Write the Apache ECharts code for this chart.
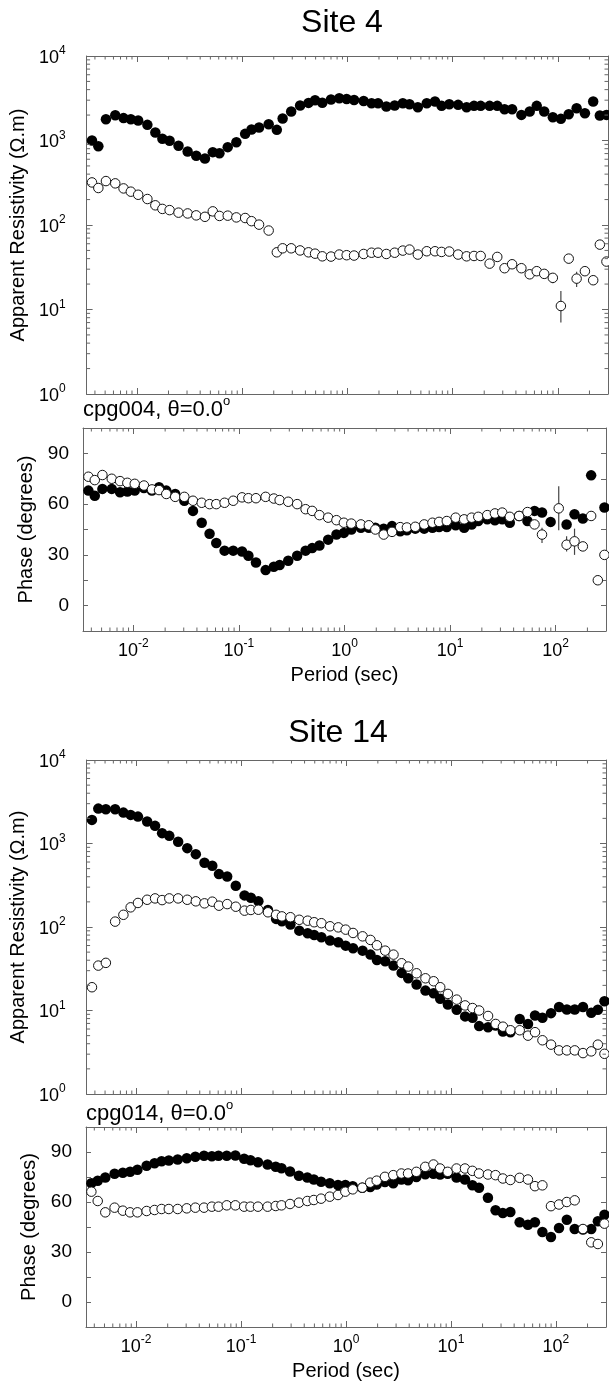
<!DOCTYPE html>
<html><head><meta charset="utf-8">
<script src="https://cdn.jsdelivr.net/npm/echarts@6/dist/echarts.min.js"></script>
<style>html,body{margin:0;padding:0;background:#fff}#c{width:609px;height:1382px}</style>
</head><body><div id="c"></div>
<script>
// ---------- data ----------
const periods = [0.00375,0.00431,0.00509,0.00624,0.00748,0.00877,0.0103,0.0126,0.0150,0.0175,
  0.0205,0.0249,0.0304,0.0367,0.0444,0.0527,0.0610,0.0731,0.0883,0.107,
  0.123,0.145,0.179,0.214,0.243,0.293,0.356,0.428,0.494,0.579,
  0.700,0.839,0.986,1.16,1.43,1.70,1.96,2.35,2.82,3.37,
  3.90,4.68,5.69,6.81,7.87,9.31,11.3,13.6,16.0,18.5,
  22.5,26.6,31.2,36.8,45.1,54.1,63.1,74.3,89.7,107,
  127,151,181,217,251,290];

const site4RhoFilled = [1000,857,1787,1990,1840,1787,1722,1531,1243,1047,
  991,865,741,660,613,728,708,834,955,1199,
  1349,1425,1559,1336,1820,2203,2590,2786,2995,2800,
  3050,3160,3100,3020,2940,2760,2760,2520,2590,2760,
  2690,2480,2760,2890,2570,2690,2640,2480,2570,2570,
  2570,2570,2343,2343,2010,2203,2570,2203,1888,1804,
  2047,2410,2100,2890,1973,2010];
const site4RhoOpen = [319,274,331,311,271,248,228,203,171,155,
  150,140,137,130,125,145,128,129,123,121,
  111,101,86,47.5,53,53,50,47.5,45.8,42.6,
  42.3,44.7,43.9,43.5,45.4,47,47,45.4,47,49.8,
  51.2,44.7,48.9,48.9,48,48.5,44.7,42.6,43,43,
  34.9,41.9,30.8,34.3,30.8,26.1,28.4,26.4,23.7,11.0,
  40,23.2,28.4,22.2,58.6,36.9];
const site4PhaseFilled = [68,65,69,69,67,67.5,68,69.5,68,70,
  68,66,62,56,49,42.5,37,32.5,32.5,32,
  29.5,25.5,21,23,24,26.5,29.5,32.5,34,35.5,
  39,42,43,45,46,46,46,45.5,47,44,
  44.5,45.5,45.5,46,46.5,46.5,47.5,46,48,50,
  51,50.5,51,49,53,50,56,55,49.5,null,
  48,54,51.5,77,null,58];
const site4PhaseOpen = [76.2,74.2,77.2,75,73.6,72.6,72,71,68.7,68.3,
  66,64.3,64.3,62,60.8,60,60,60.8,62,64,
  63.5,63.5,64.3,63.3,62.4,61.4,60,57,56,53.5,
  52,50.5,49,48.5,48,47.5,45,42,43.6,46.4,
  46.2,46.6,48,49,49.5,50,52,51,52,52.5,
  53.5,54.5,55,52.5,53,55.3,48,42,null,57.5,
  36,38,35,53,15,30];
// error bars: [period index, low, high]
const site4RhoOpenErr = [[58,20.5,26.5],[59,7.0,16.5],[60,35,44],[61,18.5,28]];
const site4PhaseOpenErr = [[57,37,46],[59,44.5,70.5],[60,32,41],[61,30,45.5]];

const site14RhoFilled = [1918,2618,2570,2570,2345,2200,2100,1833,1626,1330,
  1235,1047,880,746,588,541,430,403,312,239,
  224,203,160,125,117,107,90.4,84,80.2,75.2,
  68.7,65.6,59.8,55.6,52.1,46.7,40.3,38.9,34.5,28.2,
  24.3,20.5,17.3,16.1,13.8,11.8,10.2,8.5,8.2,6.5,
  6.3,6.6,5.6,5.5,7.9,6.9,8.7,8.2,9.3,11,
  10.3,10.3,11,9.4,10.2,12.9];
const site14RhoOpen = [19,34.5,37.2,116,140,172,194,212,220,210,
  220,220,212,203,192,201,180,188,175,157,
  160,161,150,140,134,131,122,119,114,111,
  102,99,93,84.8,77.3,70,60.4,52.1,46.7,36.8,
  33.6,27.9,24.3,22.4,19,15.8,13.5,11.5,10.7,10,
  8.6,6.9,6.4,5.8,5.8,5.0,5.5,4.4,3.9,3.33,
  3.33,3.33,3.09,3.24,3.9,3.03];
const site14PhaseFilled = [71.2,72.8,74.7,77,77.5,78.1,79.3,81.7,83.3,84.5,
  84.9,85.5,86.3,87.1,87.7,87.5,87.7,87.7,87.9,85.9,
  85.1,83.9,82.5,81.1,80.3,78.3,75.7,74.7,73.5,72.2,
  71.2,70.2,70.2,69.5,68.5,69,70.5,72,71.2,73.5,
  73,75,76.7,77,76.5,77,74.7,73.5,70,68.6,
  62.6,55,53.4,54,47.8,46.4,47.8,42,39,44.4,
  49.4,43.8,43.5,43.8,48.4,52.4];
const site14PhaseOpen = [66.2,60.6,53.8,56.6,54.8,53.8,53.8,54.6,55.2,55.8,
  55.8,55.8,56.2,56.6,56.6,57.2,57.2,58,58,57.2,
  57.2,57.2,57.2,57.6,58,58.8,59.6,60.6,61.2,62,
  63.2,64.2,66.2,67.6,68.6,71.6,72.8,75.1,76.1,77.1,
  77.1,78.1,81.1,82.5,80.1,78.1,80.1,80.1,78.7,77.1,
  76.5,76.1,74.1,73.2,74.5,73.5,69.5,70,57.5,58.5,
  60,61,43.8,35.8,34.8,47];

const siteTitles = ['Site 4', 'Site 14'];
const siteCodes = ['cpg004', 'cpg014'];
const rotationAngle = '0.0';
const periodRange = [1/300, 300];
const rhoRange = [1, 10000];
const phaseRange = [-15, 105];
const phaseTickStep = 15;
const phaseLabelled = [0, 30, 60, 90];

// minor tick values (log decades x 2..9)
const periodMinorTicks = [];
for (let e = -3; e <= 2; e++) for (let m = 2; m <= 9; m++) {
  const v = m * Math.pow(10, e);
  if (v > periodRange[0] && v < periodRange[1]) periodMinorTicks.push(v);
}
const rhoMinorTicks = [];
for (let e = 0; e <= 3; e++) for (let m = 2; m <= 9; m++) rhoMinorTicks.push(m * Math.pow(10, e));

// ---------- styling ----------
const FONT = '"Liberation Sans", Arial, Helvetica, sans-serif';
const AX = '#666';
const grids = [
  {left: 83, top: 56, width: 525, height: 338},
  {left: 83, top: 428, width: 525, height: 203},
  {left: 86, top: 760, width: 520, height: 334},
  {left: 86, top: 1127, width: 520, height: 200}
];
const powRich = {
  b: {fontSize: 18, fontFamily: FONT, color: '#000', verticalAlign: 'bottom', lineHeight: 22},
  s: {fontSize: 12, fontFamily: FONT, color: '#000', verticalAlign: 'top', lineHeight: 12}
};
function powLabel(v) {
  const l = Math.log10(v), e = Math.round(l);
  if (Math.abs(l - e) > 1e-6) return '';
  return '{b|10}{s|' + e + '}';
}
function phaseLabel(v) { return phaseLabelled.indexOf(v) >= 0 ? String(v) : ''; }

const xAxis = [], yAxis = [], series = [];
grids.forEach(function (g, gi) {
  const isPhase = gi % 2 === 1;
  const baseX = {type: 'log', logBase: 10, gridIndex: gi, min: periodRange[0], max: periodRange[1],
    splitLine: {show: false}, minorTick: {show: false},
    axisLine: {show: true, onZero: false, lineStyle: {color: AX, width: 1}},
    axisTick: {show: true, inside: true, length: 6, lineStyle: {color: AX}}};
  xAxis.push(Object.assign({}, baseX, {position: 'bottom',
    axisLabel: {show: isPhase, formatter: powLabel, rich: powRich, margin: 7},
    name: isPhase ? 'Period (sec)' : '', nameLocation: 'middle', nameGap: 34,
    nameTextStyle: {fontSize: 20, fontFamily: FONT, color: '#000'}}));
  xAxis.push(Object.assign({}, baseX, {position: 'top', axisLabel: {show: false}}));
  const baseY = isPhase ?
    {type: 'value', min: phaseRange[0], max: phaseRange[1], interval: phaseTickStep} :
    {type: 'log', logBase: 10, min: rhoRange[0], max: rhoRange[1]};
  Object.assign(baseY, {gridIndex: gi, splitLine: {show: false}, minorTick: {show: false},
    axisLine: {show: true, onZero: false, lineStyle: {color: AX, width: 1}},
    axisTick: {show: true, inside: true, length: isPhase ? 5 : 6, lineStyle: {color: AX}}});
  const site14 = gi >= 2;
  yAxis.push(Object.assign({}, baseY, {position: 'left',
    axisLabel: isPhase ?
      {formatter: phaseLabel, margin: 14, fontSize: 19, fontFamily: FONT, color: '#000'} :
      {formatter: powLabel, rich: powRich, margin: 21},
    name: isPhase ? 'Phase (degrees)' : 'Apparent Resistivity (\u03A9.m)',
    nameLocation: 'middle', nameGap: isPhase ? (site14 ? 47 : 45) : (site14 ? 57 : 54),
    nameTextStyle: {fontSize: 20, fontFamily: FONT, color: '#000'}}));
  yAxis.push(Object.assign({}, baseY, {position: 'right', axisLabel: {show: false}}));
});

function tickRender(dir, len) {
  return function (params, api) {
    const cs = params.coordSys;
    const p = api.coord([api.value(0), api.value(1)]);
    const ch = [];
    if (dir === 'x') {
      const x = p[0];
      if (x <= cs.x + 0.5 || x >= cs.x + cs.width - 0.5) return null;
      const b = cs.y + cs.height, t = cs.y;
      ch.push({type: 'line', shape: {x1: x, y1: b, x2: x, y2: b - len}, style: {stroke: AX, lineWidth: 1}});
      ch.push({type: 'line', shape: {x1: x, y1: t, x2: x, y2: t + len}, style: {stroke: AX, lineWidth: 1}});
    } else {
      const y = p[1];
      if (y <= cs.y + 0.5 || y >= cs.y + cs.height - 0.5) return null;
      const l = cs.x, r = cs.x + cs.width;
      ch.push({type: 'line', shape: {x1: l, y1: y, x2: l + len, y2: y}, style: {stroke: AX, lineWidth: 1}});
      ch.push({type: 'line', shape: {x1: r, y1: y, x2: r - len, y2: y}, style: {stroke: AX, lineWidth: 1}});
    }
    return {type: 'group', children: ch};
  };
}
function errRender(params, api) {
  const lo = api.coord([api.value(0), api.value(1)]);
  const hi = api.coord([api.value(0), api.value(2)]);
  return {type: 'line', shape: {x1: lo[0], y1: lo[1], x2: hi[0], y2: hi[1]},
    style: {stroke: '#444', lineWidth: 1.2}};
}
function pts(vals) {
  const out = [];
  periods.forEach(function (p, i) { if (vals[i] != null) out.push([p, vals[i]]); });
  return out;
}

const panels = [
  {filled: site4RhoFilled, open: site4RhoOpen, err: site4RhoOpenErr, yRef: 10},
  {filled: site4PhaseFilled, open: site4PhaseOpen, err: site4PhaseOpenErr, yRef: 0},
  {filled: site14RhoFilled, open: site14RhoOpen, err: [], yRef: 10},
  {filled: site14PhaseFilled, open: site14PhaseOpen, err: [], yRef: 0}
];
panels.forEach(function (pn, gi) {
  const xi = gi * 2, yi = gi * 2;
  series.push({type: 'custom', xAxisIndex: xi, yAxisIndex: yi, silent: true, z: 4,
    data: periodMinorTicks.map(function (v) { return [v, pn.yRef]; }),
    encode: {x: 0, y: 1}, renderItem: tickRender('x', 3.5)});
  if (gi % 2 === 0) {
    series.push({type: 'custom', xAxisIndex: xi, yAxisIndex: yi, silent: true, z: 4,
      data: rhoMinorTicks.map(function (v) { return [1, v]; }),
      encode: {x: 0, y: 1}, renderItem: tickRender('y', 3.5)});
  }
  if (pn.err.length) {
    series.push({type: 'custom', xAxisIndex: xi, yAxisIndex: yi, silent: true, z: 2,
      data: pn.err.map(function (e) { return [periods[e[0]], e[1], e[2]]; }),
      encode: {x: 0, y: [1, 2]}, renderItem: errRender});
  }
  series.push({type: 'scatter', xAxisIndex: xi, yAxisIndex: yi, z: 3, silent: true,
    data: pts(pn.filled), symbol: 'circle', symbolSize: 10.5,
    itemStyle: {color: '#000', opacity: 1}});
  series.push({type: 'scatter', xAxisIndex: xi, yAxisIndex: yi, z: 3, silent: true,
    data: pts(pn.open), symbol: 'circle', symbolSize: 9.5,
    itemStyle: {color: '#fff', borderColor: '#111', borderWidth: 1, opacity: 1}});
});

const supRich = {
  m: {fontSize: 22, fontFamily: FONT, color: '#000', verticalAlign: 'bottom', lineHeight: 26},
  s: {fontSize: 13, fontFamily: FONT, color: '#000', verticalAlign: 'top', lineHeight: 13}
};
const graphic = [
  {type: 'text', x: 342, y: 23, style: {text: siteTitles[0], font: '32px ' + FONT, fill: '#000', textAlign: 'center', textVerticalAlign: 'middle'}},
  {type: 'text', x: 338, y: 733, style: {text: siteTitles[1], font: '32px ' + FONT, fill: '#000', textAlign: 'center', textVerticalAlign: 'middle'}},
  {type: 'text', x: 83, y: 408, style: {text: '{m|' + siteCodes[0] + ', \u03B8=' + rotationAngle + '}{s|o}', rich: supRich, textAlign: 'left', textVerticalAlign: 'middle'}},
  {type: 'text', x: 86, y: 1112, style: {text: '{m|' + siteCodes[1] + ', \u03B8=' + rotationAngle + '}{s|o}', rich: supRich, textAlign: 'left', textVerticalAlign: 'middle'}}
];

const chart = echarts.init(document.getElementById('c'), null, {renderer: 'canvas'});
chart.setOption({
  backgroundColor: '#fff', animation: false,
  grid: grids.map(function (g) { return Object.assign({containLabel: false, show: false}, g); }),
  xAxis: xAxis, yAxis: yAxis, series: series, graphic: graphic
});
</script></body></html>
